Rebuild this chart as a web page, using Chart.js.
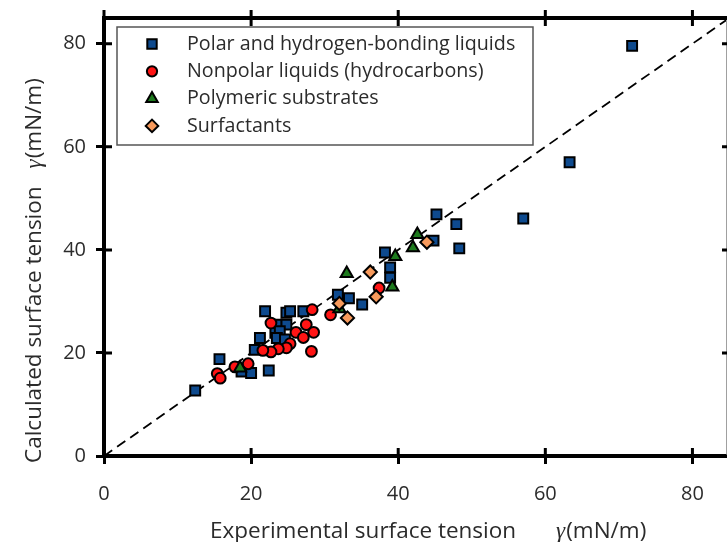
<!DOCTYPE html>
<html>
<head>
<meta charset="utf-8">
<script src="https://cdn.jsdelivr.net/npm/chart.js@4.4.1/dist/chart.umd.min.js"></script>
<style>
  html, body { margin: 0; padding: 0; background: #fff; overflow: hidden; }
  #c { display: block; }
</style>
</head>
<body>
<canvas id="c" width="727" height="542"></canvas>
<script>
// Experimental vs calculated surface tension (mN/m)
const polarX = [71.8, 63.3, 57.0, 45.2, 47.9, 48.3, 44.8, 38.2, 38.9, 38.9, 31.8, 33.3, 35.1, 27.1, 21.9,
                24.8, 25.3, 23.5, 24.8, 23.3, 23.9, 23.5, 24.6, 21.2, 20.5, 15.7, 18.7, 20.0, 22.4, 12.4];
const polarY = [79.6, 57.0, 46.1, 46.9, 45.0, 40.3, 41.8, 39.5, 36.6, 34.6, 31.3, 30.6, 29.4, 28.1, 28.1,
                27.8, 28.1, 25.5, 25.5, 23.9, 24.2, 22.9, 22.6, 22.9, 20.6, 18.8, 16.4, 16.1, 16.6, 12.7];

const nonpolarX = [28.3, 30.8, 37.4, 22.7, 27.5, 26.1, 28.5, 27.1, 25.3, 24.8, 23.7, 22.7, 21.6, 28.2, 19.6, 17.8, 15.4, 15.8];
const nonpolarY = [28.4, 27.4, 32.6, 25.8, 25.5, 24.0, 24.0, 23.0, 21.8, 21.0, 20.8, 20.2, 20.5, 20.3, 17.9, 17.3, 16.0, 15.1];

const polymerX = [42.6, 42.0, 39.6, 33.0, 39.2, 32.0, 18.5];
const polymerY = [43.0, 40.4, 38.7, 35.4, 32.8, 28.6, 17.1];

const surfactantX = [43.9, 36.2, 37.0, 32.0, 33.1];
const surfactantY = [41.5, 35.7, 30.9, 29.6, 26.8];

// y = x reference line endpoints
const parityLine = [0, 85];

const xAxisMax = 84.7;
const yAxisMax = 85;
const tickStep = 20;

const seriesNames = [
  'Polar and hydrogen-bonding liquids',
  'Nonpolar liquids (hydrocarbons)',
  'Polymeric substrates',
  'Surfactants'
];

const xTitle = 'Experimental surface tension';
const yTitle = 'Calculated surface tension';
const symbol = 'γ';
const unit = '(mN/m)';

const FONT = '"Open Sans", "Noto Sans", sans-serif';
const TEXT = '#2b2b2b';

function pts(xs, ys) { return xs.map((x, i) => ({ x: x, y: ys[i] })); }

const markers = [
  { style: 'rect',     radius: 7.0, fill: '#0e4a8e' },
  { style: 'circle',   radius: 5.4, fill: '#ff1414' },
  { style: 'triangle', radius: 7.0, fill: '#1d7a1d' },
  { style: 'rectRot',  radius: 6.6, fill: '#f79a5c' }
];

function markerSet(label, data, m, order) {
  return {
    label: label,
    data: data,
    showLine: false,
    pointStyle: m.style,
    pointRadius: m.radius,
    pointHoverRadius: m.radius,
    pointBackgroundColor: m.fill,
    pointBorderColor: '#000',
    pointBorderWidth: 2,
    order: order
  };
}

// inner tick marks, frame edges, in-plot legend and axis titles
const framePlugin = {
  id: 'frame',
  afterDatasetsDraw(chart) {
    const ctx = chart.ctx;
    const a = chart.chartArea;
    const xs = chart.scales.x, ys = chart.scales.y;
    ctx.save();
    // thin outer edge on the right
    ctx.strokeStyle = '#a0a0a0';
    ctx.lineWidth = 1;
    ctx.beginPath(); ctx.moveTo(chart.width - 0.5, a.top); ctx.lineTo(chart.width - 0.5, a.bottom); ctx.stroke();
    // top edge
    ctx.strokeStyle = '#000';
    ctx.lineWidth = 4;
    ctx.beginPath(); ctx.moveTo(a.left - 2, a.top); ctx.lineTo(chart.width, a.top); ctx.stroke();
    // ticks
    ctx.lineWidth = 3;
    ctx.beginPath();
    xs.ticks.forEach(t => {
      const px = xs.getPixelForValue(t.value);
      ctx.moveTo(px, a.bottom); ctx.lineTo(px, a.bottom - 8);
      ctx.moveTo(px, a.top - 8); ctx.lineTo(px, a.top + 8);
    });
    ys.ticks.forEach(t => {
      const py = ys.getPixelForValue(t.value);
      ctx.moveTo(a.left, py); ctx.lineTo(a.left + 8, py);
      ctx.moveTo(chart.width - 5, py); ctx.lineTo(chart.width, py);
    });
    ctx.stroke();

    // legend box
    const lx = a.left + 13, ly = a.top + 9, lw = 416, lh = 118;
    ctx.fillStyle = '#fff';
    ctx.fillRect(lx, ly, lw, lh);
    ctx.strokeStyle = '#555';
    ctx.lineWidth = 1.5;
    ctx.strokeRect(lx, ly, lw, lh);
    ctx.font = '19.7px ' + FONT;
    ctx.textBaseline = 'middle';
    ctx.textAlign = 'left';
    seriesNames.forEach((name, i) => {
      const cy = ly + 17 + i * 27.3;
      const m = markers[i];
      ctx.fillStyle = m.fill;
      ctx.strokeStyle = '#000';
      ctx.lineWidth = 2;
      Chart.helpers.drawPoint(ctx, { pointStyle: m.style, radius: m.radius * 0.95, rotation: 0, borderWidth: 2 }, lx + 35, cy);
      ctx.fillStyle = TEXT;
      ctx.fillText(name, lx + 70, cy);
    });

    // axis titles
    const mainFont = '22.5px ' + FONT;
    const symFont = 'italic 23px "Liberation Serif", "DejaVu Serif", serif';
    ctx.fillStyle = TEXT;
    ctx.textBaseline = 'alphabetic';
    // x title
    let x = a.left + 106;
    const by = 538;
    ctx.font = mainFont; ctx.fillText(xTitle, x, by);
    x += ctx.measureText(xTitle).width + 40;
    ctx.font = symFont; ctx.fillText(symbol, x, by);
    x += ctx.measureText(symbol).width + 1;
    ctx.font = mainFont; ctx.fillText(unit, x, by);
    // y title
    ctx.save();
    ctx.translate(41, 463);
    ctx.rotate(-Math.PI / 2);
    let y = 0;
    ctx.font = mainFont; ctx.fillText(yTitle, y, 0);
    y += ctx.measureText(yTitle).width + 18;
    ctx.font = symFont; ctx.fillText(symbol, y, 0);
    y += ctx.measureText(symbol).width + 1;
    ctx.font = mainFont; ctx.fillText(unit, y, 0);
    ctx.restore();

    ctx.restore();
  }
};

function axisOptions(maxValue) {
  return {
    type: 'linear',
    min: 0,
    max: maxValue,
    ticks: {
      stepSize: tickStep,
      includeBounds: false,
      color: TEXT,
      font: { family: FONT, size: 20 }
    },
    grid: {
      drawOnChartArea: false,
      drawTicks: true,
      tickLength: 8,
      tickWidth: 3,
      tickColor: '#000',
      color: '#000'
    },
    border: { display: true, color: '#000', width: 4 }
  };
}

const xAxis = axisOptions(xAxisMax);
xAxis.position = 'bottom';
xAxis.ticks.padding = 18;
xAxis.ticks.maxRotation = 0;
xAxis.afterFit = function (scale) {
  scale.height = 86;
  scale.paddingLeft = 0; scale.paddingRight = 0;
};

const yAxis = axisOptions(yAxisMax);
yAxis.position = 'left';
yAxis.ticks.padding = 10;
yAxis.afterFit = function (scale) {
  scale.width = 104;
  scale.paddingTop = 0; scale.paddingBottom = 0;
};

new Chart(document.getElementById('c'), {
  type: 'scatter',
  data: {
    datasets: [
      markerSet(seriesNames[0], pts(polarX, polarY), markers[0], 4),
      markerSet(seriesNames[1], pts(nonpolarX, nonpolarY), markers[1], 3),
      markerSet(seriesNames[2], pts(polymerX, polymerY), markers[2], 2),
      markerSet(seriesNames[3], pts(surfactantX, surfactantY), markers[3], 1),
      {
        label: 'y = x',
        data: pts(parityLine, parityLine),
        showLine: true,
        pointRadius: 0,
        borderColor: '#000',
        borderWidth: 1.8,
        borderDash: [10, 6],
        order: 5
      }
    ]
  },
  options: {
    responsive: false,
    animation: false,
    events: [],
    layout: { autoPadding: false, padding: { left: 0, top: 18, right: -9, bottom: 0 } },
    plugins: { legend: { display: false }, tooltip: { enabled: false } },
    scales: { x: xAxis, y: yAxis }
  },
  plugins: [framePlugin]
});
</script>
</body>
</html>
